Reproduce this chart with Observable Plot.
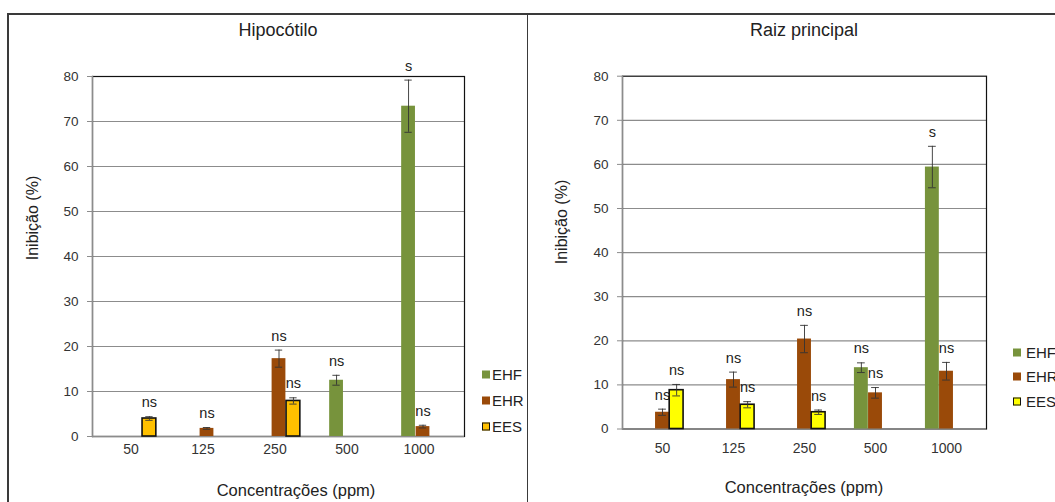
<!DOCTYPE html>
<html>
<head>
<meta charset="utf-8">
<script src="https://cdn.jsdelivr.net/npm/d3@7"></script>
<script src="https://cdn.jsdelivr.net/npm/@observablehq/plot@0.6"></script>
<style>
  html, body { margin: 0; padding: 0; background: #fff; }
  #page { position: relative; width: 1055px; height: 502px; overflow: hidden; background: #fff;
          font-family: "Liberation Sans", Arial, sans-serif; color: #222; }
  .abs { position: absolute; white-space: nowrap; }
  .title { font-size: 18px; transform: translate(-50%, -50%); }
  .xtitle { font-size: 16.5px; transform: translate(-50%, -50%); }
  .ytitle { font-size: 16px; transform: translate(-50%, -50%) rotate(-90deg); }
  .legend { font-size: 15px; }
  .legend .row { position: absolute; display: flex; align-items: center; transform: translateY(-50%); white-space: nowrap; }
  .legend .sw { width: 8px; height: 8px; box-sizing: border-box; }
  .line { position: absolute; background: #3a3a3a; }
</style>
</head>
<body>
<div id="page"></div>
<script>
// Concentrations on the x axis and the three extracts
const concentrations = ["50", "125", "250", "500", "1000"];
const extracts = ["EHF", "EHR", "EES"];
const yTicks = [0, 10, 20, 30, 40, 50, 60, 70, 80];

// Hipocótilo: mean inhibition (%), error and significance per extract
const hipoEHF = [null, null, null, 12.5, 73.4];
const hipoEHFerr = [null, null, null, 1.1, 5.8];
const hipoEHFsig = [null, null, null, "ns", "s"];
const hipoEHR = [null, 1.8, 17.3, null, 2.2];
const hipoEHRerr = [null, 0.2, 1.9, null, 0.3];
const hipoEHRsig = [null, "ns", "ns", null, "ns"];
const hipoEES = [4.0, null, 7.9, null, null];
const hipoEESerr = [0.4, null, 0.7, null, null];
const hipoEESsig = ["ns", null, "ns", null, null];

// Raiz principal
const raizEHF = [null, null, null, 13.9, 59.4];
const raizEHFerr = [null, null, null, 1.1, 4.7];
const raizEHFsig = [null, null, null, "ns", "s"];
const raizEHR = [3.8, 11.2, 20.4, 8.2, 13.1];
const raizEHRerr = [0.7, 1.7, 3.1, 1.2, 2.0];
const raizEHRsig = ["ns", "ns", "ns", "ns", "ns"];
const raizEES = [8.8, 5.5, 3.8, null, null];
const raizEESerr = [1.3, 0.7, 0.5, null, null];
const raizEESsig = ["ns", "ns", "ns", null, null];

function rows(values, errors, sigs) {
  return concentrations
    .map((c, i) => ({conc: c, value: values[i], err: errors[i], sig: sigs[i]}))
    .filter(d => d.value != null);
}

const FONT = '"Liberation Sans", Arial, sans-serif';
const GRID = "#8c8c8c";

function panel(opts) {
  const {width, height, mt, mr, mb, ml, series, colors, xDx, xPad} = opts;
  const xs = Plot.scale({x: {type: "band", domain: concentrations, range: [ml, width - mr]}});
  const bw = xs.bandwidth;
  const barW = bw * 0.22;
  const marks = [
    Plot.ruleY(yTicks.slice(1, -1), {stroke: GRID, strokeWidth: 1.2, strokeOpacity: 1}),
    Plot.frame({stroke: "#111", strokeWidth: 1.2})
  ];
  marks.push(Plot.frame({anchor: "left", stroke: GRID, strokeWidth: 1.4}));
  marks.push(Plot.ruleY([0], {stroke: GRID, strokeWidth: 1.4}));
  series.forEach((s, i) => {
    const dx = (i - 1) * barW;
    const inset = (bw - barW) / 2;
    const bordered = s.name === "EES";
    marks.push(Plot.barY(s.data, {
      x: "conc", y: "value", dx, insetLeft: inset, insetRight: inset,
      fill: colors[s.name],
      stroke: bordered ? "#111" : "none", strokeWidth: bordered ? 1.6 : 0
    }));
    marks.push(Plot.ruleX(s.data, {
      x: "conc", y1: d => d.value - d.err, y2: d => d.value + d.err,
      dx, stroke: "#333", strokeWidth: 0.9
    }));
    const capInset = (bw - 8) / 2;
    marks.push(Plot.tickY(s.data, {x: "conc", y: d => d.value + d.err, dx, insetLeft: capInset, insetRight: capInset, stroke: "#333", strokeWidth: 0.9}));
    marks.push(Plot.tickY(s.data, {x: "conc", y: d => d.value - d.err, dx, insetLeft: capInset, insetRight: capInset, stroke: "#333", strokeWidth: 0.9}));
    marks.push(Plot.text(s.data, {
      x: "conc", y: d => d.value + d.err, text: "sig", dx, dy: -14,
      fontSize: 14.5, fill: "#222", lineAnchor: "middle"
    }));
  });
  marks.push(Plot.axisY({ticks: yTicks, tickSize: 5, tickPadding: 9, stroke: GRID, fill: "#333", fontSize: 13.5, label: null}));
  marks.push(Plot.axisX({tickSize: 0, tickPadding: xPad, dx: xDx, fill: "#333", fontSize: 14, label: null}));
  return Plot.plot({
    width, height,
    marginTop: mt, marginRight: mr, marginBottom: mb, marginLeft: ml,
    x: {type: "band", domain: concentrations, range: [ml, width - mr]},
    y: {domain: [0, 80]},
    style: {fontFamily: FONT, background: "transparent", overflow: "visible", maxWidth: "none"},
    marks
  });
}

const page = document.getElementById("page");

function place(el, left, top) {
  el.style.position = "absolute";
  el.style.left = left + "px";
  el.style.top = top + "px";
  page.appendChild(el);
}

function addText(cls, text, x, y) {
  const d = document.createElement("div");
  d.className = "abs " + cls;
  d.textContent = text;
  d.style.left = x + "px";
  d.style.top = y + "px";
  page.appendChild(d);
}

function addLegend(x, ys, gap, colors, borders) {
  const box = document.createElement("div");
  box.className = "legend";
  extracts.forEach((name, i) => {
    const row = document.createElement("div");
    row.className = "row";
    row.style.left = x + "px";
    row.style.top = ys[i] + "px";
    const sw = document.createElement("span");
    sw.className = "sw";
    sw.style.background = colors[name];
    sw.style.marginRight = gap + "px";
    if (borders[name]) sw.style.border = "1.5px solid #111";
    const lab = document.createElement("span");
    lab.textContent = name;
    row.appendChild(sw);
    row.appendChild(lab);
    box.appendChild(row);
  });
  page.appendChild(box);
}

// outer frame of the two panels
[[7, 13, 1048, 1.5], [7, 13, 1.5, 489], [526.5, 13, 1.5, 489]].forEach(([l, t, w, h]) => {
  const d = document.createElement("div");
  d.className = "line";
  Object.assign(d.style, {left: l + "px", top: t + "px", width: w + "px", height: h + "px"});
  page.appendChild(d);
});

const hipoColors = {EHF: "#77933c", EHR: "#9a4a09", EES: "#ffc000"};
const raizColors = {EHF: "#77933c", EHR: "#9a4a09", EES: "#ffff00"};

const left = panel({
  width: 527, height: 502, mt: 76, mr: 63, mb: 66, ml: 92, xDx: -4, xPad: 8,
  colors: hipoColors,
  series: [
    {name: "EHF", data: rows(hipoEHF, hipoEHFerr, hipoEHFsig)},
    {name: "EHR", data: rows(hipoEHR, hipoEHRerr, hipoEHRsig)},
    {name: "EES", data: rows(hipoEES, hipoEESerr, hipoEESsig)}
  ]
});
place(left, 0, 0);

const right = panel({
  width: 528, height: 502, mt: 75.7, mr: 69, mb: 73.5, ml: 95, xDx: 0, xPad: 14,
  colors: raizColors,
  series: [
    {name: "EHF", data: rows(raizEHF, raizEHFerr, raizEHFsig)},
    {name: "EHR", data: rows(raizEHR, raizEHRerr, raizEHRsig)},
    {name: "EES", data: rows(raizEES, raizEESerr, raizEESsig)}
  ]
});
place(right, 527, 0);

addText("title", "Hipocótilo", 278, 30);
addText("title", "Raiz principal", 804, 30);
addText("xtitle", "Concentrações (ppm)", 296, 490);
addText("xtitle", "Concentrações (ppm)", 804, 487);
addText("ytitle", "Inibição (%)", 33, 218);
addText("ytitle", "Inibição (%)", 562, 222);

addLegend(482, [374, 400, 426], 2, hipoColors, {EES: true});
addLegend(1013, [352, 376, 401], 5, raizColors, {EES: true});
</script>
</body>
</html>
